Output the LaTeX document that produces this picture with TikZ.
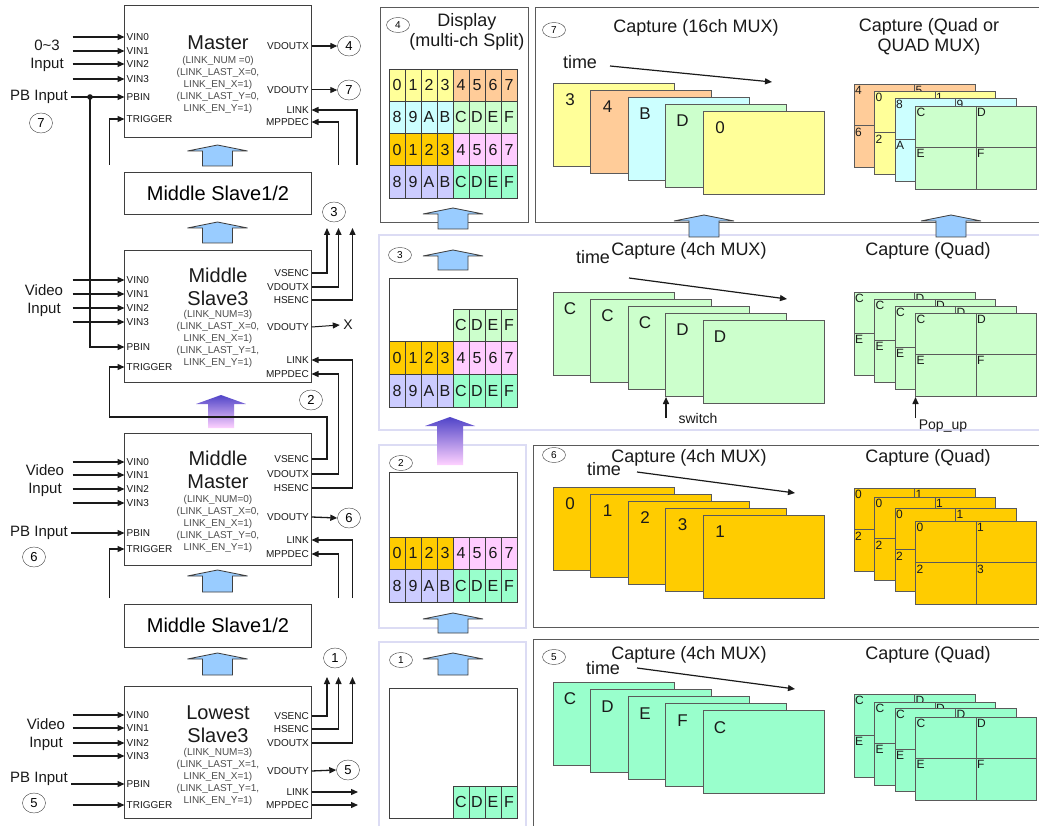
\documentclass[tikz,border=0pt]{standalone}
\usepackage{fontspec}
\setmainfont{Liberation Sans}
\usetikzlibrary{arrows.meta,shapes.geometric,calc}
\definecolor{ink}{HTML}{1A1A1A}
\definecolor{boxline}{HTML}{3F3F3F}
\definecolor{partxt}{HTML}{4D4D4D}
\definecolor{panline}{HTML}{5A5A5A}
\definecolor{panlite}{HTML}{DCDCF4}
\definecolor{arrblue}{HTML}{99CCFF}
\definecolor{cyel}{HTML}{FFFF99}
\definecolor{corg}{HTML}{FFCC99}
\definecolor{ccyn}{HTML}{CCFFFF}
\definecolor{cgrn}{HTML}{CCFFCC}
\definecolor{cgold}{HTML}{FFCC00}
\definecolor{cpink}{HTML}{FFCCFF}
\definecolor{clav}{HTML}{CCCCFF}
\definecolor{cmint}{HTML}{99FFCC}
\definecolor{gradtop}{HTML}{5044C8}
\definecolor{gradbot}{HTML}{FFD2FF}
\newcommand{\fsz}[2]{\fontsize{#1}{#2}\selectfont}
\newcommand{\cellrow}[6]{%
  \foreach \lab [count=\i from 0] in {#6}
    {\node[cell,fill=#4,minimum height=#5pt] (#1-\i) at ({#2+16*\i},#3) {\lab};}}

\tikzset{
  chip/.style={draw=boxline,fill=white,line width=0.9pt,minimum width=187pt,minimum height=132pt,inner sep=0pt},
  slavebox/.style={draw=boxline,fill=white,line width=0.9pt,minimum width=187pt,minimum height=42pt,font=\fsz{20}{20}},
  chiptitle/.style={align=center,font=\fsz{20}{23},inner sep=0pt,text=ink},
  params/.style={align=center,font=\fsz{10}{12},text=partxt,inner sep=0pt},
  pinl/.style={anchor=west,inner xsep=2pt,inner ysep=0pt,font=\fsz{10}{10},text=ink},
  pinr/.style={anchor=east,inner xsep=2.5pt,inner ysep=0pt,font=\fsz{10}{10},text=ink},
  lbl/.style={font=\fsz{15}{18},text=ink,align=center},
  numring/.style={draw=boxline,ellipse,minimum width=23pt,minimum height=20pt,inner sep=0pt,font=\fsz{13}{13}},
  numsmall/.style={draw=boxline,ellipse,minimum width=23pt,minimum height=15pt,inner sep=0pt,font=\fsz{10}{10}},
  sig/.style={draw=ink,line width=1.3pt,-{Triangle[length=7pt,width=6pt]}},
  wire/.style={draw=ink,line width=1.1pt},
  cell/.style={draw=boxline,line width=0.7pt,minimum width=16pt,inner sep=0pt,font=\fsz{16}{16},text=ink},
  frame/.style={draw=panline,line width=0.9pt},
  panhard/.style={draw=panline,line width=1pt},
  pansoft/.style={draw=panlite,line width=1.5pt},
  ttl/.style={font=\fsz{18}{20},align=center,text=ink},
  muxlab/.style={font=\fsz{17}{17},text=ink,inner sep=0pt},
  quadlab/.style={font=\fsz{12}{12},text=ink,inner sep=0pt,anchor=north west},
  pics/bigup/.style={code={\draw[line width=0.8pt,draw=boxline,pic actions] (-30,6) -- (0,0) -- (30,6) -- (15,6) -- (15,#1) -- (-15,#1) -- (-15,6) -- cycle;}},
  pics/gradup/.style={code={\path[pic actions] (-25,9) -- (0,0) -- (25,9) -- (13,9) -- (13,#1) -- (-13,#1) -- (-13,9) -- cycle;}}
}

\begin{document}
\begin{tikzpicture}[x=1pt,y=-1pt]
\useasboundingbox (0,0) rectangle (1039,826);
\fill[white] (0,0) rectangle (1039,826);

% ---------- Master ----------
\node[chip] (mst) at (218,71.5) {};
\node[chiptitle] (mst-t) at (218,43) {Master};
\node[params] (mst-p) at (218,84.5) {(LINK\_NUM =0)\\(LINK\_LAST\_X=0,\\LINK\_EN\_X=1)\\(LINK\_LAST\_Y=0,\\LINK\_EN\_Y=1)};
\foreach \p/\txt/\yy in {vin0/VIN0/37,vin1/VIN1/51,vin2/VIN2/64,vin3/VIN3/79,pbin/PBIN/97,trig/TRIGGER/119}
  {\node[pinl] (mst-\p) at (124.5,\yy) {\txt};}
\foreach \p/\txt/\yy in {vdoutx/VDOUTX/46,vdouty/VDOUTY/90,link/LINK/110,mppdec/MPPDEC/122}
  {\node[pinr] (mst-\p) at (311.5,\yy) {\txt};}
\foreach \p in {vin0,vin1,vin2,vin3}
  {\draw[sig] ([xshift=-52pt]mst-\p.west) -- (mst-\p.west);}
\node[lbl] (in7) at (47,56) {0\textasciitilde3\\Input};
\node[lbl] (pb7) at (39,97) {PB Input};
\node[numring] (c7l) at (41,123) {7};
\draw[sig] (pb7.east) -- (mst-pbin.west);
\coordinate (pbdot) at (90,97);
\fill[ink] (pbdot) circle (2.8);
\node[numring] (c4a) at (349,46) {4};
\node[numring] (c7a) at (349,90) {7};
\draw[sig] (mst-vdoutx.east) -- (c4a.west);
\draw[sig,line width=1pt] (mst-vdouty.east) -- (c7a.west);
\coordinate (mst-trig-in) at (109.5,165);
\coordinate (mst-link-in) at (357,165);
\coordinate (mst-mpp-in) at (338.5,165);
\draw[sig] (mst-trig-in) |- (mst-trig.west);
\draw[sig] (mst-link-in) |- (mst-link.east);
\draw[sig] (mst-mpp-in) |- (mst-mppdec.east);
\pic[fill=arrblue] at (217.5,145) {bigup=21};
\node[slavebox] (sl12a) at (218,193.5) {Middle Slave1/2};
\pic[fill=arrblue] at (217.5,222) {bigup=21};
\node[numring] (c3a) at (334,212) {3};

% ---------- Middle Slave3 ----------
\node[chip] (ms3) at (218,316.5) {};
\node[chiptitle] (ms3-t) at (218,286.5) {Middle\\Slave3};
\node[params] (ms3-p) at (218,339) {(LINK\_NUM=3)\\(LINK\_LAST\_X=0,\\LINK\_EN\_X=1)\\(LINK\_LAST\_Y=1,\\LINK\_EN\_Y=1)};
\foreach \p/\txt/\yy in {vin0/VIN0/280,vin1/VIN1/294,vin2/VIN2/308,vin3/VIN3/322,pbin/PBIN/347,trig/TRIGGER/367}
  {\node[pinl] (ms3-\p) at (124.5,\yy) {\txt};}
\foreach \p/\txt/\yy in {vsenc/VSENC/273,vdoutx/VDOUTX/287,hsenc/HSENC/300,vdouty/VDOUTY/327,link/LINK/360,mppdec/MPPDEC/374}
  {\node[pinr] (ms3-\p) at (311.5,\yy) {\txt};}
\foreach \p in {vin0,vin1,vin2,vin3}
  {\draw[sig] ([xshift=-52pt]ms3-\p.west) -- (ms3-\p.west);}
\node[lbl] (vid3) at (44,301) {Video\\Input};
\draw[sig] (pbdot) |- (ms3-pbin.west);
\coordinate (up3a) at (327,228);
\coordinate (up3b) at (338.5,228);
\coordinate (up3c) at (352.5,228);
\draw[sig] (ms3-vsenc.east) -| (up3a);
\draw[sig] (ms3-vdoutx.east) -| (up3b);
\draw[sig] (ms3-hsenc.east) -| (up3c);
\node[lbl,font=\fsz{14}{14}] (xout) at (348,325) {X};
\draw[sig,line width=1pt] (ms3-vdouty.east) -- (xout.west);
\node[numring] (c2a) at (311,400) {2};
\pic[top color=gradtop,bottom color=gradbot] at (221,395) {gradup=33};

% ---------- Middle Master ----------
\node[chip] (mm) at (218,499.5) {};
\node[chiptitle] (mm-t) at (218,470) {Middle\\Master};
\node[params] (mm-p) at (218,524) {(LINK\_NUM=0)\\(LINK\_LAST\_X=0,\\LINK\_EN\_X=1)\\(LINK\_LAST\_Y=0,\\LINK\_EN\_Y=1)};
\foreach \p/\txt/\yy in {vin0/VIN0/462,vin1/VIN1/475,vin2/VIN2/489,vin3/VIN3/503,pbin/PBIN/533,trig/TRIGGER/549}
  {\node[pinl] (mm-\p) at (124.5,\yy) {\txt};}
\foreach \p/\txt/\yy in {vsenc/VSENC/459,vdoutx/VDOUTX/474,hsenc/HSENC/488,vdouty/VDOUTY/517,link/LINK/540,mppdec/MPPDEC/554}
  {\node[pinr] (mm-\p) at (311.5,\yy) {\txt};}
\foreach \p in {vin0,vin1,vin2,vin3}
  {\draw[sig] ([xshift=-52pt]mm-\p.west) -- (mm-\p.west);}
\node[lbl] (vid6) at (45,480.5) {Video\\Input};
\node[lbl] (pb6) at (39,533) {PB Input};
\node[numring] (c6l) at (34,557) {6};
\draw[sig] (pb6.east) -- (mm-pbin.west);
\draw[sig] (mm-vsenc.east) -| (327,417) -| ([xshift=-15pt]ms3-trig.west) -- (ms3-trig.west);
\draw[sig] (mm-vdoutx.east) -| ([xshift=27pt]ms3-mppdec.east) -- (ms3-mppdec.east);
\draw[sig] (mm-hsenc.east) -| ([xshift=41pt]ms3-link.east) -- (ms3-link.east);
\node[numring] (c6a) at (349,518) {6};
\draw[sig] (mm-vdouty.east) -- (c6a.west);
\coordinate (mm-trig-in) at (109.5,598);
\coordinate (mm-link-in) at (352.5,598);
\coordinate (mm-mpp-in) at (338.5,598);
\draw[sig] (mm-trig-in) |- (mm-trig.west);
\draw[sig] (mm-link-in) |- (mm-link.east);
\draw[sig] (mm-mpp-in) |- (mm-mppdec.east);
\pic[fill=arrblue] at (217.5,570) {bigup=22};
\node[slavebox,minimum height=43pt] (sl12b) at (218,625.5) {Middle Slave1/2};
\pic[fill=arrblue] at (217.5,653) {bigup=22};
\node[numring] (c1a) at (335,658) {1};

% ---------- Lowest Slave3 ----------
\node[chip] (ls3) at (218,752.5) {};
\node[chiptitle] (ls3-t) at (218,724) {Lowest\\Slave3};
\node[params] (ls3-p) at (218,777) {(LINK\_NUM=3)\\(LINK\_LAST\_X=1,\\LINK\_EN\_X=1)\\(LINK\_LAST\_Y=1,\\LINK\_EN\_Y=1)};
\foreach \p/\txt/\yy in {vin0/VIN0/715,vin1/VIN1/728,vin2/VIN2/743,vin3/VIN3/756,pbin/PBIN/784,trig/TRIGGER/805}
  {\node[pinl] (ls3-\p) at (124.5,\yy) {\txt};}
\foreach \p/\txt/\yy in {vsenc/VSENC/716,hsenc/HSENC/729,vdoutx/VDOUTX/743,vdouty/VDOUTY/771,link/LINK/792,mppdec/MPPDEC/805}
  {\node[pinr] (ls3-\p) at (311.5,\yy) {\txt};}
\foreach \p in {vin0,vin1,vin2,vin3,trig}
  {\draw[sig] ([xshift=-52pt]ls3-\p.west) -- (ls3-\p.west);}
\node[lbl] (vid5) at (46,734.5) {Video\\Input};
\node[lbl] (pb5) at (39,779) {PB Input};
\node[numring] (c5l) at (34,803) {5};
\draw[sig] (pb5.east |- ls3-pbin.west) -- (ls3-pbin.west);
\coordinate (up1a) at (327,677);
\coordinate (up1b) at (338.5,677);
\coordinate (up1c) at (352.5,677);
\draw[sig] (ls3-vsenc.east) -| (up1a);
\draw[sig] (ls3-hsenc.east) -| (up1b);
\draw[sig] (ls3-vdoutx.east) -| (up1c);
\node[numring] (c5a) at (348,770) {5};
\draw[sig] (ls3-vdouty.east) -- (c5a.west);
\coordinate (ls3-link-out) at (358,792);
\coordinate (ls3-mpp-out) at (358,805);
\draw[sig] (ls3-link.east) -- (ls3-link-out);
\draw[sig] (ls3-mppdec.east) -- (ls3-mpp-out);

% ---------- display panels ----------
\draw[panhard] (380,8) rectangle (528,223);
\node[numsmall] (c4b) at (398,25) {4};
\node[ttl] (disp) at (467,32) {Display\\(multi-ch Split)};
\cellrow{d4a}{397}{85.1}{cyel}{32.25}{0,1,2,3}
\cellrow{d4b}{461}{85.1}{corg}{32.25}{4,5,6,7}
\cellrow{d4c}{397}{117.4}{ccyn}{32.25}{8,9,A,B}
\cellrow{d4d}{461}{117.4}{cgrn}{32.25}{C,D,E,F}
\cellrow{d4e}{397}{149.6}{cgold}{32.25}{0,1,2,3}
\cellrow{d4f}{461}{149.6}{cpink}{32.25}{4,5,6,7}
\cellrow{d4g}{397}{181.9}{clav}{32.25}{8,9,A,B}
\cellrow{d4h}{461}{181.9}{cmint}{32.25}{C,D,E,F}

\draw[pansoft] (1045,235) -| (379,430) -- (1045,430);
\node[numsmall] (c3b) at (400,255) {3};
\draw[boxline,line width=0.8pt,fill=white] (389,278) rectangle (517,407);
\cellrow{d3a}{461}{325.3}{cgrn}{32.7}{C,D,E,F}
\cellrow{d3b}{397}{358}{cgold}{32.7}{0,1,2,3}
\cellrow{d3c}{461}{358}{cpink}{32.7}{4,5,6,7}
\cellrow{d3d}{397}{390.7}{clav}{32.7}{8,9,A,B}
\cellrow{d3e}{461}{390.7}{cmint}{32.7}{C,D,E,F}

\draw[pansoft] (379,445) rectangle (526,628);
\node[numsmall] (c2b) at (401,463) {2};
\draw[boxline,line width=0.8pt,fill=white] (389,472) rectangle (517,602);
\cellrow{d2a}{397}{553.3}{cgold}{32.5}{0,1,2,3}
\cellrow{d2b}{461}{553.3}{cpink}{32.5}{4,5,6,7}
\cellrow{d2c}{397}{585.8}{clav}{32.5}{8,9,A,B}
\cellrow{d2d}{461}{585.8}{cmint}{32.5}{C,D,E,F}

\draw[pansoft] (379,840) |- (526,642) -- (526,840);
\node[numsmall] (c1b) at (401,660) {1};
\draw[boxline,line width=0.8pt,fill=white] (389,688) rectangle (517,818);
\cellrow{d1a}{461}{802}{cmint}{32}{C,D,E,F}

\pic[fill=arrblue] at (453,208) {bigup=21};
\pic[fill=arrblue] at (453,250) {bigup=20};
\pic[top color=gradtop,bottom color=gradbot] at (450,417) {gradup=48};
\pic[fill=arrblue] at (453,613) {bigup=20};
\pic[fill=arrblue] at (453,653) {bigup=22};

% ---------- capture panel 7 ----------
\draw[panhard] (1045,8) -| (535,223) -- (1045,223);
\node[numsmall] (c7b) at (554,30) {7};
\node[ttl] (cap7a) at (696,28) {Capture (16ch MUX)};
\node[ttl] (cap7b) at (929,37) {Capture (Quad or\\QUAD MUX)};
\node[ttl] (time7) at (580,62) {time};
\coordinate (t7s) at (610,66);
\coordinate (t7e) at (772,82);
\draw[sig,line width=1.2pt] (t7s) -- (t7e);
\foreach \lab/\col [count=\i from 0] in {3/cyel,4/corg,B/ccyn,D/cgrn,0/cyel}
  {\draw[frame,fill=\col] ({553+37.5*\i},{83+7*\i}) rectangle ++(121,83);
   \node[muxlab] (m7-\i) at ({570+37.5*\i},{100+7*\i}) {\lab};}
\foreach \yt/\col/\la/\lb/\lc/\ld [count=\i from 0] in {84/corg/4/5/6/7,91/cyel/0/1/2/3,98/ccyn/8/9/A/B,106/cgrn/C/D/E/F}
  {\draw[frame,fill=\col] ({854+20.5*\i},\yt) rectangle ++(121,83);
   \draw[frame] ({914.5+20.5*\i},\yt) -- ++(0,83) ({854+20.5*\i},{\yt+41.5}) -- ++(121,0);
   \node[quadlab] (q7a-\i) at ({855+20.5*\i},{\yt+2}) {\la};
   \node[quadlab] (q7b-\i) at ({915.5+20.5*\i},{\yt+2}) {\lb};
   \node[quadlab] (q7c-\i) at ({855+20.5*\i},{\yt+43.5}) {\lc};
   \ifnum\i=3 \node[quadlab] (q7d-\i) at ({915.5+20.5*\i},{\yt+43.5}) {\ld};\fi}
\pic[fill=arrblue] at (704,215) {bigup=22};
\pic[fill=arrblue] at (951,215) {bigup=22};

% ---------- capture panel 3 ----------
\node[ttl] (cap3a) at (689,251) {Capture (4ch MUX)};
\node[ttl] (time3) at (593,257) {time};
\node[ttl] (cap3b) at (928,251) {Capture (Quad)};
\coordinate (t3s) at (629,278);
\coordinate (t3e) at (787,299);
\draw[sig,line width=1.2pt] (t3s) -- (t3e);
\foreach \lab [count=\i from 0] in {C,C,C,D,D}
  {\draw[frame,fill=cgrn] ({553+37.5*\i},{292+7*\i}) rectangle ++(121,83);
   \node[muxlab] (m3-\i) at ({570+37.5*\i},{309+7*\i}) {\lab};}
\foreach \yt [count=\i from 0] in {292,299,306,313}
  {\draw[frame,fill=cgrn] ({854+20.5*\i},\yt) rectangle ++(121,83);
   \draw[frame] ({914.5+20.5*\i},\yt) -- ++(0,83) ({854+20.5*\i},{\yt+41.5}) -- ++(121,0);
   \node[quadlab] (q3a-\i) at ({855+20.5*\i},{\yt+2}) {C};
   \node[quadlab] (q3b-\i) at ({915.5+20.5*\i},{\yt+2}) {D};
   \node[quadlab] (q3c-\i) at ({855+20.5*\i},{\yt+43.5}) {E};
   \ifnum\i=3 \node[quadlab] (q3d-\i) at ({915.5+20.5*\i},{\yt+43.5}) {F};\fi}
\coordinate (sw-s) at (666,418);
\coordinate (sw-e) at (666,397);
\draw[sig,line width=1.5pt] (sw-s) -- (sw-e);
\node[lbl,font=\fsz{14}{14}] (swlab) at (698,418) {switch};
\coordinate (pop-s) at (915.5,418);
\coordinate (pop-e) at (915.5,397);
\draw[sig,line width=1.5pt] (pop-s) -- (pop-e);
\node[lbl,font=\fsz{14}{14}] (poplab) at (943,426) {Pop\_up};

% ---------- capture panel 6 ----------
\draw[panhard] (1045,445) -| (533,627) -- (1045,627);
\node[numsmall] (c6b) at (554,455) {6};
\node[ttl] (cap6a) at (689,458) {Capture (4ch MUX)};
\node[ttl] (time6) at (604,469) {time};
\node[ttl] (cap6b) at (928,458) {Capture (Quad)};
\coordinate (t6s) at (637,472);
\coordinate (t6e) at (795,493);
\draw[sig,line width=1.2pt] (t6s) -- (t6e);
\foreach \lab [count=\i from 0] in {0,1,2,3,1}
  {\draw[frame,fill=cgold] ({553+37.5*\i},{487+7*\i}) rectangle ++(121,83);
   \node[muxlab] (m6-\i) at ({570+37.5*\i},{504+7*\i}) {\lab};}
\foreach \yt [count=\i from 0] in {488,497,508,521}
  {\draw[frame,fill=cgold] ({854+20.5*\i},\yt) rectangle ++(121,83);
   \draw[frame] ({914.5+20.5*\i},\yt) -- ++(0,83) ({854+20.5*\i},{\yt+41.5}) -- ++(121,0);
   \node[quadlab] (q6a-\i) at ({855+20.5*\i},{\yt+2}) {0};
   \node[quadlab] (q6b-\i) at ({915.5+20.5*\i},{\yt+2}) {1};
   \node[quadlab] (q6c-\i) at ({855+20.5*\i},{\yt+43.5}) {2};
   \ifnum\i=3 \node[quadlab] (q6d-\i) at ({915.5+20.5*\i},{\yt+43.5}) {3};\fi}

% ---------- capture panel 5 ----------
\draw[panhard] (1045,639) -| (533,840);
\node[numsmall] (c5b) at (554,657) {5};
\node[ttl] (cap5a) at (689,655) {Capture (4ch MUX)};
\node[ttl] (time5) at (603,668) {time};
\node[ttl] (cap5b) at (928,655) {Capture (Quad)};
\coordinate (t5s) at (637,668);
\coordinate (t5e) at (795,689);
\draw[sig,line width=1.2pt] (t5s) -- (t5e);
\foreach \lab [count=\i from 0] in {C,D,E,F,C}
  {\draw[frame,fill=cmint] ({553+37.5*\i},{682+7.2*\i}) rectangle ++(121,83);
   \node[muxlab] (m5-\i) at ({570+37.5*\i},{699+7.2*\i}) {\lab};}
\foreach \yt [count=\i from 0] in {694,702,708,717}
  {\draw[frame,fill=cmint] ({854+20.5*\i},\yt) rectangle ++(121,83);
   \draw[frame] ({914.5+20.5*\i},\yt) -- ++(0,83) ({854+20.5*\i},{\yt+41.5}) -- ++(121,0);
   \node[quadlab] (q5a-\i) at ({855+20.5*\i},{\yt+2}) {C};
   \node[quadlab] (q5b-\i) at ({915.5+20.5*\i},{\yt+2}) {D};
   \node[quadlab] (q5c-\i) at ({855+20.5*\i},{\yt+43.5}) {E};
   \ifnum\i=3 \node[quadlab] (q5d-\i) at ({915.5+20.5*\i},{\yt+43.5}) {F};\fi}
\end{tikzpicture}
\end{document}
